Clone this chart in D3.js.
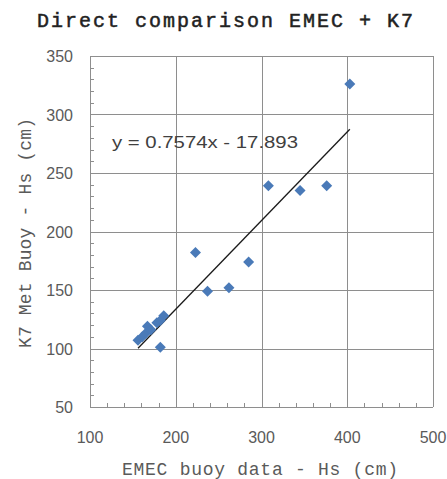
<!DOCTYPE html>
<html>
<head>
<meta charset="utf-8">
<script src="https://cdn.jsdelivr.net/npm/d3@7"></script>
<style>
  body { margin: 0; background: #fff; }
  svg { display: block; }
</style>
</head>
<body>
<svg width="447" height="479"></svg>
<script>
const emec = [156, 161, 165, 167, 171, 178, 182, 186, 182, 223, 237, 262, 285, 308, 345, 376, 403];
const k7   = [107, 110, 113, 119, 116, 122, 124, 128, 101, 182, 149, 152, 174, 239, 235, 239, 326];
const xTicks = [100, 200, 300, 400, 500];
const yTicks = [50, 100, 150, 200, 250, 300, 350];
const slope = 0.7574;
const intercept = -17.893;

const svg = d3.select("svg");
const plotL = 90, plotR = 433, plotT = 56, plotB = 407;

const x = d3.scaleLinear().domain([100, 500]).range([plotL, plotR]);
const y = d3.scaleLinear().domain([50, 350]).range([plotB, plotT]);

const gridColor = "#8e8e8e";

// gridlines
svg.selectAll(".vgrid")
  .data(xTicks)
  .enter()
  .append("line")
  .attr("x1", d => Math.round(x(d)) + 0.5)
  .attr("x2", d => Math.round(x(d)) + 0.5)
  .attr("y1", plotT)
  .attr("y2", plotB)
  .attr("stroke", gridColor);

svg.selectAll(".hgrid")
  .data(yTicks)
  .enter()
  .append("line")
  .attr("y1", d => Math.round(y(d)) + 0.5)
  .attr("y2", d => Math.round(y(d)) + 0.5)
  .attr("x1", plotL)
  .attr("x2", plotR)
  .attr("stroke", gridColor);

// minor ticks inside plot
const xMinor = d3.range(100, 500, 20).filter(d => d % 100 !== 0);
const yMinor = d3.range(50, 350, 10).filter(d => d % 50 !== 0);

svg.selectAll(".xminor")
  .data(xMinor)
  .enter()
  .append("line")
  .attr("x1", d => Math.round(x(d)) + 0.5)
  .attr("x2", d => Math.round(x(d)) + 0.5)
  .attr("y1", plotB)
  .attr("y2", plotB - 4)
  .attr("stroke", gridColor);

svg.selectAll(".yminor")
  .data(yMinor)
  .enter()
  .append("line")
  .attr("y1", d => Math.round(y(d)) + 0.5)
  .attr("y2", d => Math.round(y(d)) + 0.5)
  .attr("x1", plotL)
  .attr("x2", plotL + 4)
  .attr("stroke", gridColor);

// tick labels
svg.selectAll(".xlab")
  .data(xTicks)
  .enter()
  .append("text")
  .attr("x", d => x(d))
  .attr("y", 443)
  .attr("text-anchor", "middle")
  .attr("font-family", "Liberation Sans, Arial, sans-serif")
  .attr("font-size", 16)
  .attr("fill", "#5a5a5a")
  .text(d => d);

svg.selectAll(".ylab")
  .data(yTicks)
  .enter()
  .append("text")
  .attr("x", 73)
  .attr("y", d => y(d) + 6)
  .attr("text-anchor", "end")
  .attr("font-family", "Liberation Sans, Arial, sans-serif")
  .attr("font-size", 16)
  .attr("fill", "#5a5a5a")
  .text(d => d);

// trendline
const xMin = d3.min(emec), xMax = d3.max(emec);
svg.append("line")
  .attr("x1", x(xMin))
  .attr("y1", y(slope * xMin + intercept))
  .attr("x2", x(xMax))
  .attr("y2", y(slope * xMax + intercept))
  .attr("stroke", "#1a1a1a")
  .attr("stroke-width", 1.3);

// points
const pts = emec.map((d, i) => [d, k7[i]]);
svg.selectAll(".pt")
  .data(pts)
  .enter()
  .append("path")
  .attr("d", "M0,-5.5L5.5,0L0,5.5L-5.5,0Z")
  .attr("transform", d => `translate(${x(d[0])},${y(d[1])})`)
  .attr("fill", "#4a7ab8");

// equation
svg.append("text")
  .attr("x", 112)
  .attr("y", 148)
  .attr("font-family", "Liberation Sans, Arial, sans-serif")
  .attr("font-size", 17)
  .attr("fill", "#404040")
  .attr("textLength", 186)
  .attr("lengthAdjust", "spacingAndGlyphs")
  .text("y = 0.7574x - 17.893");

// title
svg.append("text")
  .attr("x", 37)
  .attr("y", 27)
  .attr("font-family", "Liberation Mono, Courier New, monospace")
  .attr("font-size", 20)
  .attr("fill", "#222")
  .attr("stroke", "#222")
  .attr("stroke-width", 0.5)
  .attr("textLength", 376)
  .attr("lengthAdjust", "spacing")
  .text("Direct comparison EMEC + K7");

// axis titles
svg.append("text")
  .attr("x", 122)
  .attr("y", 475)
  .attr("font-family", "Liberation Mono, Courier New, monospace")
  .attr("font-size", 18)
  .attr("fill", "#5a5a5a")
  .attr("textLength", 276)
  .attr("lengthAdjust", "spacing")
  .text("EMEC buoy data - Hs (cm)");

svg.append("text")
  .attr("transform", "translate(31,348) rotate(-90)")
  .attr("font-family", "Liberation Mono, Courier New, monospace")
  .attr("font-size", 18)
  .attr("fill", "#5a5a5a")
  .attr("textLength", 230)
  .attr("lengthAdjust", "spacing")
  .text("K7 Met Buoy - Hs (cm)");
</script>
</body>
</html>
